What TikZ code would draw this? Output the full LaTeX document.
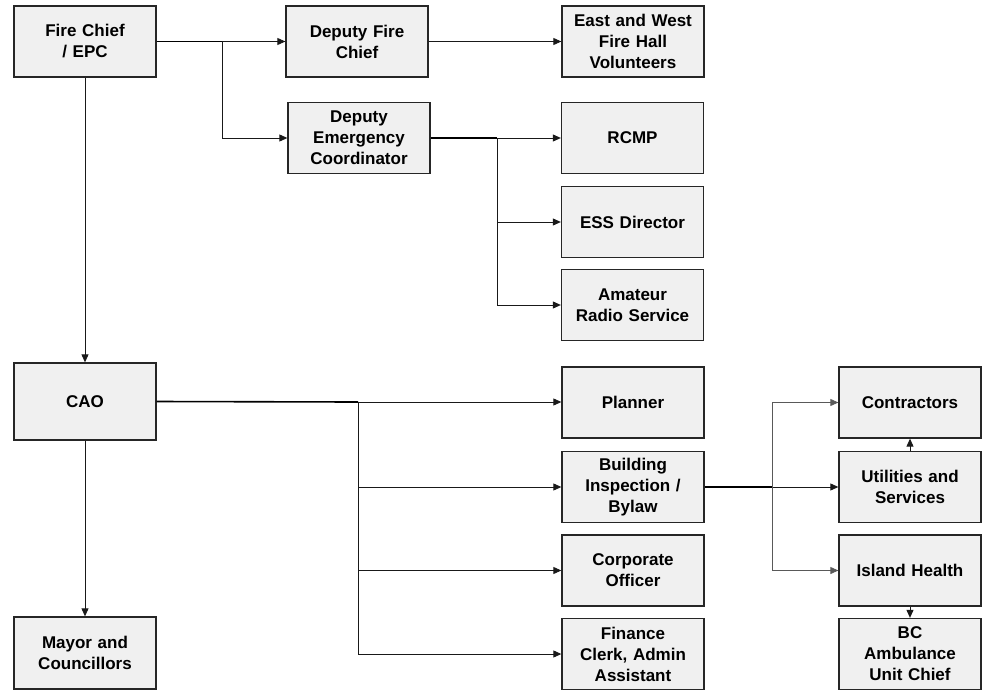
\documentclass[tikz,border=0pt]{standalone}
\usepackage{fontspec}
\setmainfont{Liberation Sans}
\usetikzlibrary{arrows.meta}
\begin{document}
\begin{tikzpicture}[x=1pt,y=-1pt,
  box/.style={draw=black!85, line width=1.3pt, fill=black!6,
    minimum width=142pt, minimum height=71pt, inner sep=0pt,
    text width=138pt, align=center,
    font=\fontsize{17}{21}\selectfont\bfseries},
  trunk/.style={line width=1.6pt, black},
  branch/.style={line width=0.9pt, black!90},
  thin/.style={line width=0.9pt, black!65},
  tip/.style={-{Triangle[length=8pt,width=7pt]}}]
\useasboundingbox (0,0) rectangle (983,689);

% fire side
\node[box] (fc)  at (85,41.5)  {Fire Chief\\/ EPC};
\node[box] (dfc) at (357,41.5) {Deputy Fire\\Chief};
\node[box] (ew)  at (633,41.5) {East and West\\Fire Hall\\Volunteers};
\node[box] (dec) at (359,138)  {Deputy\\Emergency\\Coordinator};
\node[box] (rcmp) at (632.5,138) {RCMP};
\node[box] (ess)  at (632.5,222) {ESS Director};
\node[box] (ars)  at (632.5,305) {Amateur\\Radio Service};

% municipal side
\node[box, minimum height=77pt] (cao) at (85,401.5) {CAO};
\node[box, minimum height=72pt] (mayor) at (85,653) {Mayor and\\Councillors};
\node[box] (plan) at (633,402.5) {Planner};
\node[box] (bib)  at (633,487)   {Building\\Inspection /\\Bylaw};
\node[box] (corp) at (633,570.5) {Corporate\\Officer};
\node[box] (fin)  at (633,654)   {Finance\\Clerk, Admin\\Assistant};
\node[box] (con)  at (910,402.5) {Contractors};
\node[box] (util) at (910,487)   {Utilities and\\Services};
\node[box] (ih)   at (910,570.5) {Island Health};
\node[box] (bc)   at (910,654)   {BC\\Ambulance\\Unit Chief};

% junction points
\coordinate (j1) at (222,41.5);
\coordinate (j2) at (497,138);
\coordinate (j3) at (358,402);
\coordinate (j4) at (772,487);

% fire chief branches
\draw[trunk] (fc.east) -- (j1);
\draw[branch,tip] (j1) -- (dfc.west);
\draw[branch,tip] (j1) |- (dec.west);
\draw[branch,tip] (dfc.east) -- (ew.west);
\draw[trunk] (dec.east) -- (j2);
\draw[branch,tip] (j2) -- (rcmp.west);
\draw[branch,tip] (j2) |- (ess.west);
\draw[branch,tip] (j2) |- (ars.west);
\draw[branch,tip] (fc.south) -- (cao.north);

% CAO branches
\draw[branch,tip] (cao.south) -- (mayor.north);
\draw[trunk] (cao.east) -- (j3);
\draw[branch,tip] (j3) -- (plan.west |- j3);
\draw[branch,tip] (j3) |- (bib.west);
\draw[branch,tip] (j3) |- (corp.west);
\draw[branch,tip] (j3) |- (fin.west);

% building inspection branches
\draw[trunk] (bib.east) -- (j4);
\draw[branch,tip] (j4) -- (util.west);
\draw[thin,tip] (j4) |- (con.west);
\draw[thin,tip] (j4) |- (ih.west);
\draw[branch,tip] (util.north) -- (con.south);
\draw[branch,tip] (ih.south) -- (bc.north);
\end{tikzpicture}
\end{document}
